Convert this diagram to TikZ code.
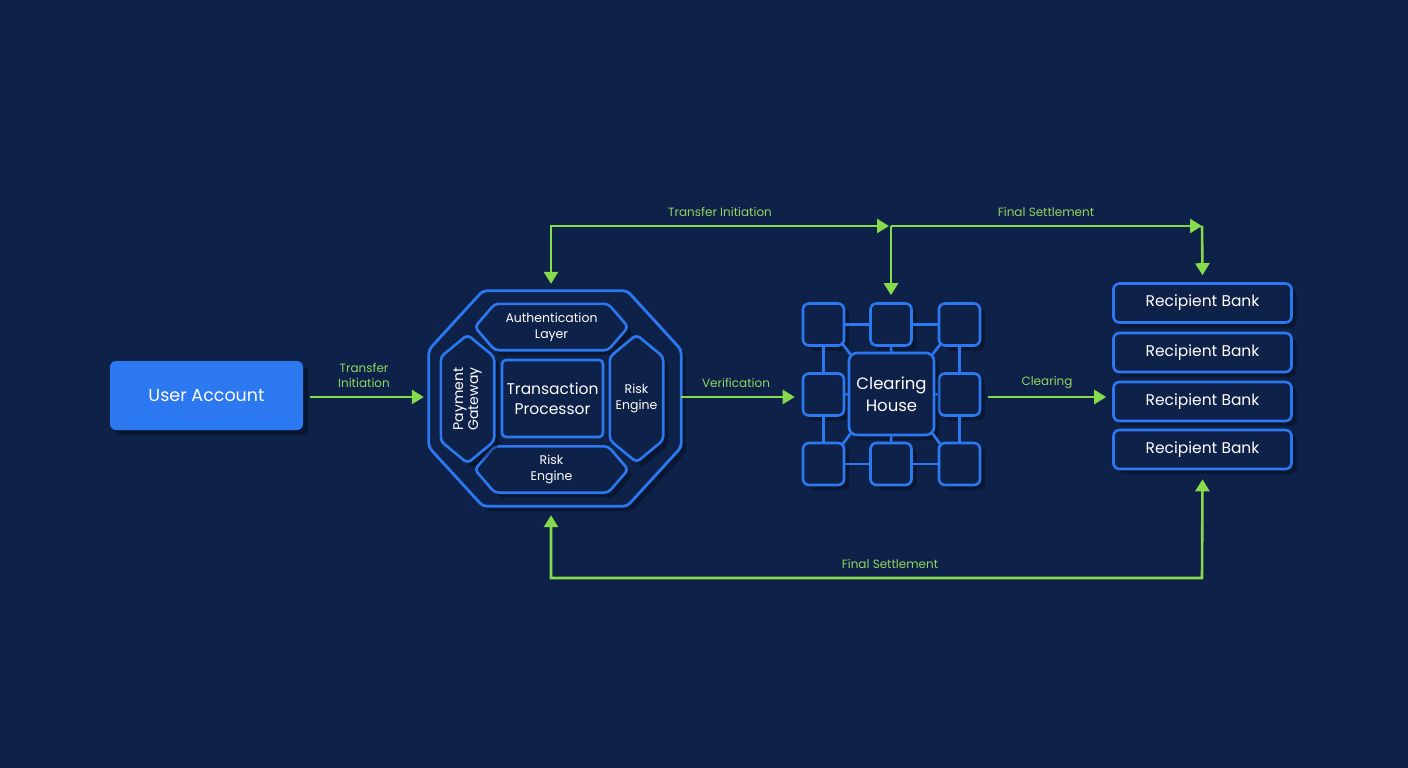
\documentclass[tikz,border=0pt]{standalone}
\usepackage{fontspec}
\setmainfont{Poppins}
\usetikzlibrary{arrows.meta,calc,shadows}
\definecolor{bg}{HTML}{0E2149}
\definecolor{bl}{HTML}{2C78F0}
\definecolor{gr}{HTML}{86DB4C}
\definecolor{grt}{HTML}{8FD65E}
\tikzset{
  shad/.style={drop shadow={shadow xshift=5pt,shadow yshift=-5pt,opacity=0.3,fill=black}},
  bline/.style={draw=bl,line width=2.6pt},
  panel/.style={bline,fill=bg,shad,rounded corners=4pt},
  flow/.style={draw=gr,line width=2.6pt,-{Triangle[length=12pt,width=14pt]}},
  flowboth/.style={draw=gr,line width=2.6pt,{Triangle[length=12pt,width=14pt]}-{Triangle[length=12pt,width=14pt]}},
  lbl/.style={text=grt,font=\fontsize{12}{15}\selectfont,align=center,inner sep=1pt},
  ghost/.style={draw=none,inner sep=0pt,text=white,align=center},
  sbox/.style={bline,fill=bg,shad,rounded corners=6pt,minimum width=41pt,minimum height=42pt,inner sep=0pt},
  bank/.style={bline,fill=bg,shad,rounded corners=6pt,minimum width=178pt,minimum height=39pt,text=white,font=\fontsize{15.5}{18}\selectfont,inner sep=0pt}
}
\begin{document}
\begin{tikzpicture}[x=1pt,y=-1pt]
\fill[bg] (0,0) rectangle (1408,768);
\useasboundingbox (0,0) rectangle (1408,768);

% User account
\node[fill=bl,rounded corners=6pt,minimum width=193pt,minimum height=69pt,text=white,
  font=\fontsize{17.5}{20}\selectfont,shad,inner sep=0pt] (user) at (206.5,395.5) {User Account};

% Core octagon
\node[ghost,minimum width=252pt,minimum height=215pt] (core) at (555,398.5) {};
\draw[panel,line width=2.8pt] ($(core.north west)+(54,0)$) -- ($(core.north east)+(-54,0)$) -- ($(core.north east)+(0,59)$)
  -- ($(core.south east)+(0,-59)$) -- ($(core.south east)+(-54,0)$) -- ($(core.south west)+(54,0)$)
  -- ($(core.south west)+(0,-59)$) -- ($(core.north west)+(0,59)$) -- cycle;

% Authentication layer
\node[ghost,minimum width=153pt,minimum height=46pt] (auth) at (551.5,327) {};
\draw[panel] (auth.west) -- ($(auth.north west)+(20,0)$) -- ($(auth.north east)+(-20,0)$) -- (auth.east)
  -- ($(auth.south east)+(-20,0)$) -- ($(auth.south west)+(20,0)$) -- cycle;
\node[ghost,font=\fontsize{12.5}{16}\selectfont] at (auth) {Authentication\\Layer};

% Bottom risk engine
\node[ghost,minimum width=153pt,minimum height=46pt] (riskb) at (551.5,469.5) {};
\draw[panel] (riskb.west) -- ($(riskb.north west)+(20,0)$) -- ($(riskb.north east)+(-20,0)$) -- (riskb.east)
  -- ($(riskb.south east)+(-20,0)$) -- ($(riskb.south west)+(20,0)$) -- cycle;
\node[ghost,font=\fontsize{12.5}{16}\selectfont] at (riskb) {Risk\\Engine};

% Payment gateway
\node[ghost,minimum width=53pt,minimum height=128pt] (pay) at (467.5,399) {};
\draw[panel] (pay.north) -- ($(pay.north east)+(0,22)$) -- ($(pay.south east)+(0,-22)$) -- (pay.south)
  -- ($(pay.south west)+(0,-22)$) -- ($(pay.north west)+(0,22)$) -- cycle;
\node[ghost,rotate=90,font=\fontsize{14}{15}\selectfont] at (pay) {Payment\\Gateway};

% Right risk engine
\node[ghost,minimum width=53pt,minimum height=127pt] (riskr) at (636.5,398.5) {};
\draw[panel] (riskr.north) -- ($(riskr.north east)+(0,22)$) -- ($(riskr.south east)+(0,-22)$) -- (riskr.south)
  -- ($(riskr.south west)+(0,-22)$) -- ($(riskr.north west)+(0,22)$) -- cycle;
\node[ghost,font=\fontsize{12.5}{16}\selectfont] at (riskr) {Risk\\Engine};

% Transaction processor
\node[bline,fill=bg,rounded corners=4pt,minimum width=101pt,minimum height=77pt,inner sep=0pt,
  text=white,align=center,font=\fontsize{15.5}{20}\selectfont] (tp) at (552.5,398.5) {Transaction\\Processor};

% Clearing house grid
\node[sbox] (c11) at (823.5,324.5) {};
\node[sbox] (c12) at (891,324.5) {};
\node[sbox] (c13) at (959.5,324.5) {};
\node[sbox] (c21) at (823.5,394.5) {};
\node[sbox] (c23) at (959.5,394.5) {};
\node[sbox] (c31) at (823.5,464) {};
\node[sbox] (c32) at (891,464) {};
\node[sbox] (c33) at (959.5,464) {};
\node[bline,fill=bg,shad,rounded corners=8pt,minimum width=85pt,minimum height=82pt,inner sep=0pt,
  text=white,align=center,font=\fontsize{16.5}{22}\selectfont] (ch) at (891.5,394) {Clearing\\House};
\draw[bline] (c11) -- (c12); \draw[bline] (c12) -- (c13);
\draw[bline] (c31) -- (c32); \draw[bline] (c32) -- (c33);
\draw[bline] (c11) -- (c21); \draw[bline] (c21) -- (c31);
\draw[bline] (c13) -- (c23); \draw[bline] (c23) -- (c33);
\draw[bline] (c12) -- (ch); \draw[bline] (c32) -- (ch);
\draw[bline] (c21) -- (ch); \draw[bline] (c23) -- (ch);
\draw[bline] ([shift={(-3pt,3pt)}]c11.south east) -- ([shift={(3pt,-3pt)}]ch.north west);
\draw[bline] ([shift={(3pt,3pt)}]c13.south west) -- ([shift={(-3pt,-3pt)}]ch.north east);
\draw[bline] ([shift={(-3pt,-3pt)}]c31.north east) -- ([shift={(3pt,3pt)}]ch.south west);
\draw[bline] ([shift={(3pt,-3pt)}]c33.north west) -- ([shift={(-3pt,3pt)}]ch.south east);

% Recipient banks
\node[bank] (rb1) at (1202.5,303) {Recipient Bank};
\node[bank] (rb2) at (1202.5,352.5) {Recipient Bank};
\node[bank] (rb3) at (1202.5,401.5) {Recipient Bank};
\node[bank] (rb4) at (1202.5,449.5) {Recipient Bank};

% Horizontal flows
\draw[flow] ([xshift=7pt]user.east |- 0,397) coordinate (u0) -- ([xshift=-5pt]core.west |- 0,397);
\node[lbl] at (364,375) {Transfer\\Initiation};
\draw[flow] (core.east |- 0,397) -- ([xshift=-7pt]c21.west |- 0,397);
\node[lbl] at (736,383) {Verification};
\draw[flow] ([xshift=7pt]c23.east |- 0,397) -- ([xshift=-6pt]rb3.west |- 0,397);
\node[lbl] at (1047,383) {Clearing};

% Top flows
\coordinate (j1) at (889,226);
\coordinate (j2) at (891,226);
\coordinate (j3) at (1202,226);
\draw[flowboth] ([xshift=-4pt,yshift=7pt]core.north) |- (j1);
\node[lbl] at (720,212) {Transfer Initiation};
\draw[flow] (j2) -- ([yshift=7pt]c12.north);
\draw[flow] (j2) -- (j3);
\draw[flow] (j3) -- ([yshift=7pt]rb1.north);
\node[lbl] at (1046,212) {Final Settlement};

% Bottom flow
\coordinate (j4) at (1202,578);
\draw[flowboth] ([xshift=-4pt,yshift=-9pt]core.south) |- (j4) -- ([yshift=-9pt]rb4.south);
\node[lbl] at (890,564) {Final Settlement};
\end{tikzpicture}
\end{document}
